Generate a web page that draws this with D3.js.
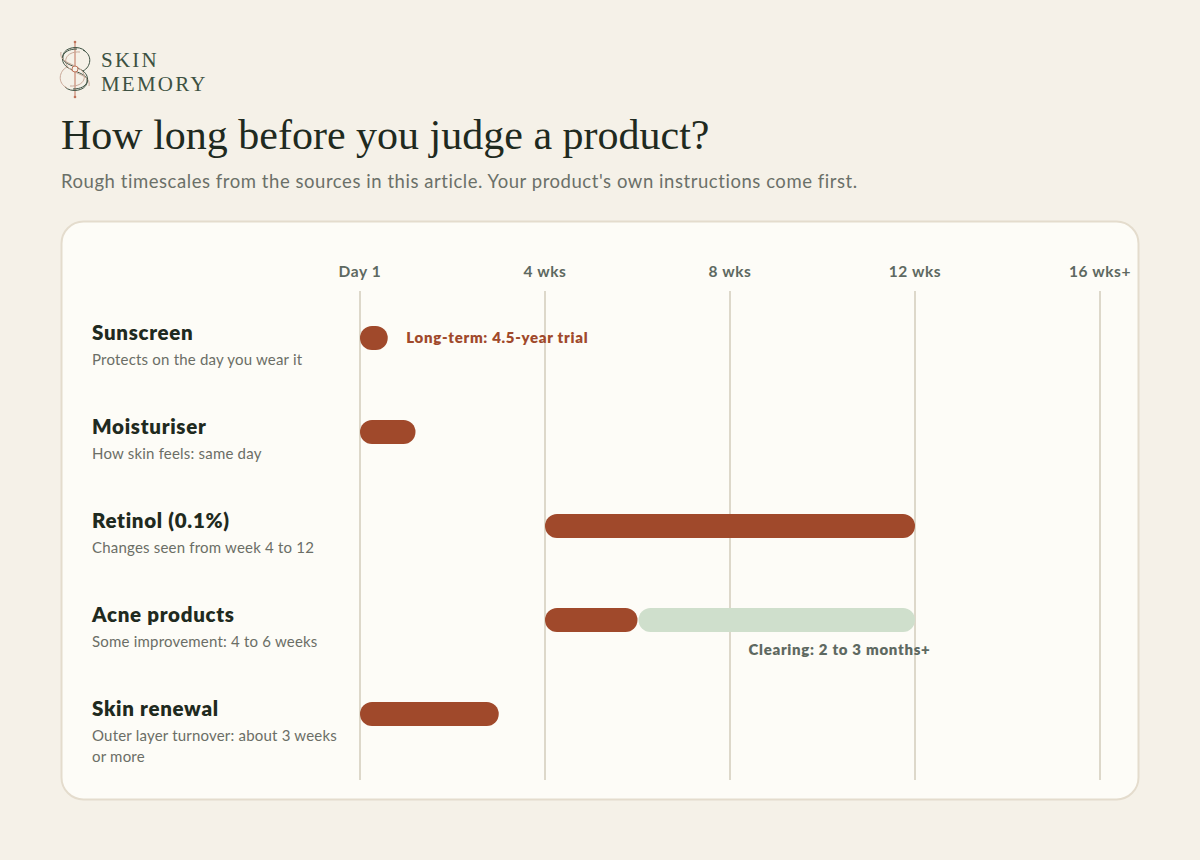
<!DOCTYPE html>
<html>
<head>
<meta charset="utf-8">
<script src="https://cdn.jsdelivr.net/npm/d3@7"></script>
<style>
  body { margin: 0; background: #f5f1e8; }
  svg { display: block; }
</style>
</head>
<body>
<div id="chart"></div>
<script>
// Data (weeks from day 1)
var products = ["Sunscreen", "Moisturiser", "Retinol (0.1%)", "Acne products", "Skin renewal"];
var notes = [
    ["Protects on the day you wear it"],
    ["How skin feels: same day"],
    ["Changes seen from week 4 to 12"],
    ["Some improvement: 4 to 6 weeks"],
    ["Outer layer turnover: about 3 weeks", "or more"]
];
var startWeeks = [0, 0, 4, 4, 0];
var endWeeks = [0.6, 1.2, 12, 6, 3];
var laterStart = [null, null, null, 6, null];
var laterEnd = [null, null, null, 12, null];
var tickWeeks = [0, 4, 8, 12, 16];
var tickLabels = ["Day 1", "4 wks", "8 wks", "12 wks", "16 wks+"];

var W = 1200, H = 860;
var svg = d3.select("#chart").append("svg")
    .attr("width", W).attr("height", H);

svg.append("rect").attr("width", W).attr("height", H).attr("fill", "#f5f1e8");

// Logo mark: swirl of loops with a red axis through it
var logo = svg.append("g").attr("transform", "translate(75,69)");
logo.append("line").attr("x1", 0).attr("x2", 0).attr("y1", -27).attr("y2", 28)
    .attr("stroke", "#c0735a").attr("stroke-width", 1);
var swirl = [
    "M2,-20 C-14,-20 -16,-8 -8,-2 C0,4 14,4 12,14 C10,22 -4,24 -10,18",
    "M5,-17 C-10,-18 -13,-6 -5,0 C3,6 16,7 14,17",
    "M-2,20 C14,20 16,8 8,2 C0,-4 -14,-4 -12,-14 C-10,-22 4,-24 10,-18",
    "M-5,17 C10,18 13,6 5,0 C-3,-6 -16,-7 -14,-17",
    "M8,-19 C18,-14 16,-2 8,2",
    "M-8,19 C-18,14 -16,2 -8,-2"
];
logo.selectAll("path").data(swirl).enter().append("path")
    .attr("d", function (d) { return d; })
    .attr("fill", "none")
    .attr("stroke", function (d, i) { return i % 2 ? "#c9a898" : "#3d5142"; })
    .attr("stroke-width", 1);
logo.append("circle").attr("r", 3).attr("fill", "#f5f1e8").attr("stroke", "#c0735a").attr("stroke-width", 1);
logo.append("circle").attr("cx", 0).attr("cy", -27).attr("r", 1.3).attr("fill", "#c0735a");
logo.append("circle").attr("cx", 0).attr("cy", 28).attr("r", 1.3).attr("fill", "#c0735a");

var brand = svg.append("text")
    .attr("font-family", "Liberation Serif, serif").attr("font-size", 21)
    .attr("letter-spacing", 2.2).attr("fill", "#3d5142");
brand.append("tspan").attr("x", 101).attr("y", 67).text("SKIN");
brand.append("tspan").attr("x", 101).attr("y", 90.5).text("MEMORY");

// Title and subtitle
svg.append("text").attr("x", 61).attr("y", 149)
    .text("How long before you judge a product?")
    .attr("font-family", "Liberation Serif, serif").attr("font-size", 42).attr("fill", "#1f2a20");
svg.append("text").attr("x", 61).attr("y", 188)
    .text("Rough timescales from the sources in this article. Your product's own instructions come first.")
    .attr("font-family", "Lato, sans-serif").attr("font-size", 18.5).attr("letter-spacing", 0.55)
    .attr("fill", "#6b7068");

// Card
svg.append("rect").attr("x", 61.5).attr("y", 221.5).attr("width", 1077).attr("height", 578)
    .attr("rx", 22).attr("fill", "#fdfcf7").attr("stroke", "#e4dccd").attr("stroke-width", 2);

var x = d3.scaleLinear().domain([0, 16]).range([360, 1100]);
var y = d3.scaleBand().domain(products).range([291, 761]);

var font = "Lato, sans-serif";

// Grid lines
svg.selectAll(".grid").data(tickWeeks).enter().append("line")
    .attr("x1", function (d) { return x(d); }).attr("x2", function (d) { return x(d); })
    .attr("y1", 291).attr("y2", 780)
    .attr("stroke", "#ddd8ca").attr("stroke-width", 2);

// Top axis labels
svg.selectAll(".tick").data(tickWeeks).enter().append("text")
    .attr("x", function (d) { return x(d); }).attr("y", 277)
    .attr("text-anchor", "middle")
    .text(function (d, i) { return tickLabels[i]; })
    .attr("font-family", font).attr("font-weight", 700).attr("font-size", 15.5)
    .attr("letter-spacing", 0.6).attr("fill", "#5e6961");

var barH = 24;
function cy(p) { return y(p) + 47; }

// Row labels
products.forEach(function (p, i) {
    svg.append("text").attr("x", 92).attr("y", cy(p) + 2).text(p)
        .attr("font-family", font).attr("font-weight", 800).attr("font-size", 20.5)
        .attr("letter-spacing", 0.7).attr("fill", "#1f2a20");
    notes[i].forEach(function (n, j) {
        svg.append("text").attr("x", 92).attr("y", cy(p) + 27 + j * 21).text(n)
            .attr("font-family", font).attr("font-size", 15).attr("letter-spacing", 0.2)
            .attr("fill", "#6b6e66");
    });
});

// Later-phase bars (green)
svg.selectAll(".later").data(products.filter(function (p, i) { return laterStart[i] != null; }))
    .enter().append("rect")
    .attr("x", function (p) { return x(laterStart[products.indexOf(p)]) + 1; })
    .attr("width", function (p) { var i = products.indexOf(p); return x(laterEnd[i]) - x(laterStart[i]) - 1; })
    .attr("y", function (p) { return cy(p) - barH / 2; })
    .attr("height", barH).attr("rx", 12)
    .attr("fill", "#cfdfcc");

// Main bars
svg.selectAll(".bar").data(products).enter().append("rect")
    .attr("x", function (p, i) { return x(startWeeks[i]); })
    .attr("width", function (p, i) { return x(endWeeks[i]) - x(startWeeks[i]); })
    .attr("y", function (p) { return cy(p) - barH / 2; })
    .attr("height", barH).attr("rx", 12)
    .attr("fill", "#a0492b");

// Annotations
svg.append("text").attr("x", x(1)).attr("y", cy(products[0]) + 5)
    .text("Long-term: 4.5-year trial")
    .attr("font-family", font).attr("font-weight", 800).attr("font-size", 15)
    .attr("letter-spacing", 0.7).attr("fill", "#a0492b");
svg.append("text").attr("x", x(8.4)).attr("y", cy(products[3]) + 35)
    .text("Clearing: 2 to 3 months+")
    .attr("font-family", font).attr("font-weight", 800).attr("font-size", 15)
    .attr("letter-spacing", 0.7).attr("fill", "#5e6961");
</script>
</body>
</html>
